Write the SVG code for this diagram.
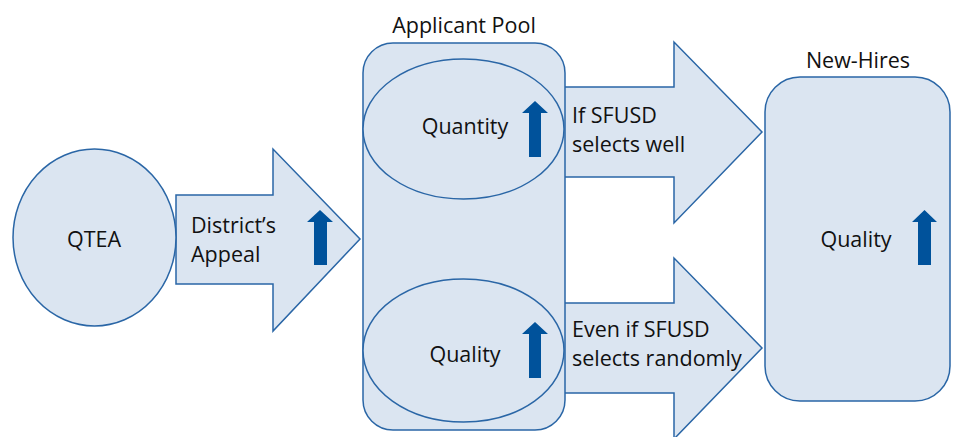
<svg xmlns="http://www.w3.org/2000/svg" width="956" height="437" viewBox="0 0 956 437">
<style>
.shape{fill:#dbe5f1;stroke:#2a66a6;stroke-width:1.5}
.up{fill:#00529b;stroke:none}
text{font-family:"Open Sans","Liberation Sans",sans-serif;font-size:21.5px;fill:#111}
.c{text-anchor:middle}
</style>
<rect width="956" height="437" fill="#fff"/>
<g id="connectors">
<g id="arrow-appeal">
<path class="shape" d="M176,195 L273,195 L273,149 L360,239 L273,331 L273,284 L176,284 Z"/>
<text x="191" y="233">District’s</text>
<text x="191" y="262">Appeal</text>
<path class="up" d="M314,265 L314,222 L307,222 L320,210 L333,222 L327,222 L327,265 Z"/>
</g>
<g id="arrow-well">
<path class="shape" d="M560,87 L674,87 L674,42 L762,132 L674,223 L674,177 L560,177 Z"/>
<text x="572" y="123">If SFUSD</text>
<text x="572" y="152">selects well</text>
</g>
<g id="arrow-random">
<path class="shape" d="M560,303 L674,303 L674,258 L762,348 L674,439 L674,393 L560,393 Z"/>
<text x="572" y="337">Even if SFUSD</text>
<text x="572" y="366">selects randomly</text>
</g>
</g>
<g id="qtea">
<ellipse class="shape" cx="94.5" cy="237.5" rx="81.5" ry="88.5"/>
<text class="c" x="94" y="247">QTEA</text>
</g>
<g id="applicant-pool">
<text class="c" x="464" y="33">Applicant Pool</text>
<rect class="shape" x="363" y="43" width="202" height="387" rx="30" ry="30"/>
<g id="pool-quantity">
<ellipse class="shape" cx="463.5" cy="129" rx="100.5" ry="70"/>
<text class="c" x="465" y="134">Quantity</text>
<path class="up" d="M529,157 L529,113 L522,113 L535,101 L548,113 L541,113 L541,157 Z"/>
</g>
<g id="pool-quality">
<ellipse class="shape" cx="463.5" cy="350.5" rx="100.5" ry="71.5"/>
<text class="c" x="465" y="362">Quality</text>
<path class="up" d="M529,378 L529,334 L522,334 L535,322 L548,334 L541,334 L541,378 Z"/>
</g>
</g>
<g id="new-hires">
<text class="c" x="858" y="68">New-Hires</text>
<rect class="shape" x="765" y="77" width="185" height="324" rx="35" ry="35"/>
<text class="c" x="856" y="247">Quality</text>
<path class="up" d="M918,265 L918,222 L912,222 L924.5,210 L937,222 L931,222 L931,265 Z"/>
</g>
</svg>
